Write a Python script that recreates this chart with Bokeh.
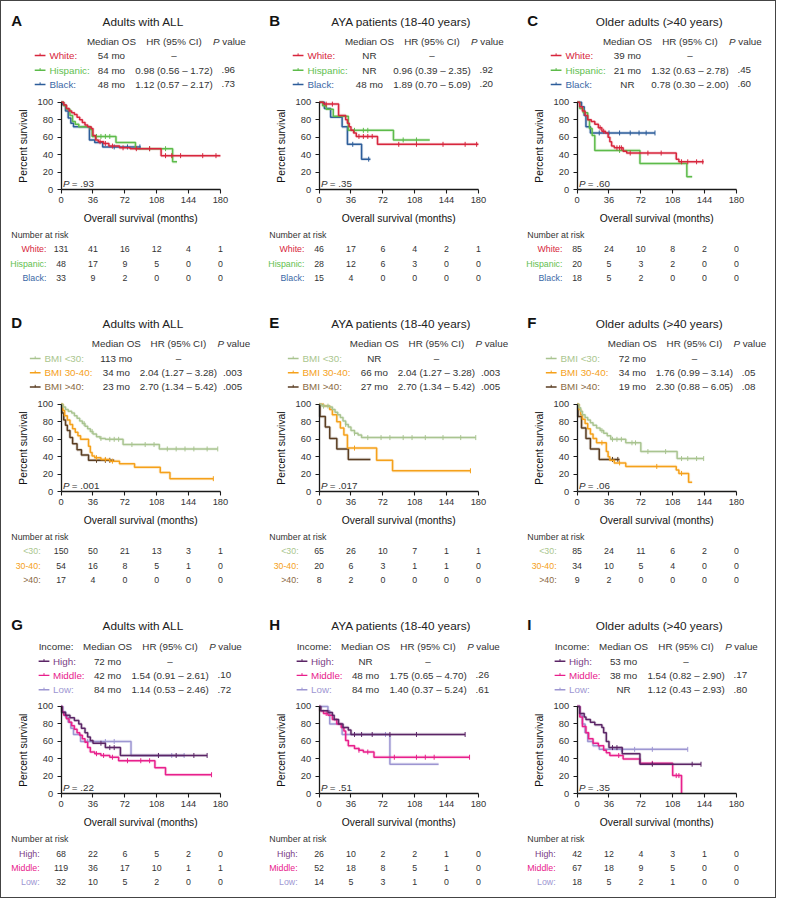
import numpy as np
from bokeh.plotting import figure
from bokeh.layouts import column, row
from bokeh.models import Range1d, FixedTicker, LinearAxis
from bokeh.core.properties import value
from bokeh.embed import file_html
from bokeh.resources import INLINE

# ------------------------------------------------------------------ data
x_ticks = [0, 36, 72, 108, 144, 180]
y_ticks = [0, 20, 40, 60, 80, 100]

titles = ["Adults with ALL", "AYA patients (18-40 years)", "Older adults (>40 years)"]
letters = ["A", "B", "C", "D", "E", "F", "G", "H", "I"]

race_labels = ["White:", "Hispanic:", "Black:"]
race_risk_labels = ["White:", "Hispanic:", "Black:"]
bmi_labels = ["BMI <30:", "BMI 30-40:", "BMI >40:"]
bmi_risk_labels = ["<30:", "30-40:", ">40:"]
inc_labels = ["High:", "Middle:", "Low:"]
inc_risk_labels = ["High:", "Middle:", "Low:"]

race_line_colors = ["#d7263d", "#5dbb4a", "#2d5d9a"]
race_text_colors = ["#d7263d", "#62c04f", "#3a68a6"]
bmi_line_colors = ["#a9c490", "#f5a11b", "#5a3d22"]
bmi_text_colors = ["#aac68e", "#f5a11b", "#8a6a43"]
inc_line_colors = ["#5b2566", "#e8208c", "#9d96d2"]
inc_text_colors = ["#7a3d86", "#e8208c", "#9d96d2"]

# header tables: median OS, HR (95% CI), P value
A_median = ["54 mo", "84 mo", "48 mo"]
A_hr = ["\u2013", "0.98 (0.56 \u2013 1.72)", "1.12 (0.57 \u2013 2.17)"]
A_p = ["", ".96", ".73"]
B_median = ["NR", "NR", "48 mo"]
B_hr = ["\u2013", "0.96 (0.39 \u2013 2.35)", "1.89 (0.70 \u2013 5.09)"]
B_p = ["", ".92", ".20"]
C_median = ["39 mo", "21 mo", "NR"]
C_hr = ["\u2013", "1.32 (0.63 \u2013 2.78)", "0.78 (0.30 \u2013 2.00)"]
C_p = ["", ".45", ".60"]
D_median = ["113 mo", "34 mo", "23 mo"]
D_hr = ["\u2013", "2.04 (1.27 \u2013 3.28)", "2.70 (1.34 \u2013 5.42)"]
D_p = ["", ".003", ".005"]
E_median = ["NR", "66 mo", "27 mo"]
E_hr = ["\u2013", "2.04 (1.27 \u2013 3.28)", "2.70 (1.34 \u2013 5.42)"]
E_p = ["", ".003", ".005"]
F_median = ["72 mo", "34 mo", "19 mo"]
F_hr = ["\u2013", "1.76 (0.99 \u2013 3.14)", "2.30 (0.88 \u2013 6.05)"]
F_p = ["", ".05", ".08"]
G_median = ["72 mo", "42 mo", "84 mo"]
G_hr = ["\u2013", "1.54 (0.91 \u2013 2.61)", "1.14 (0.53 \u2013 2.46)"]
G_p = ["", ".10", ".72"]
H_median = ["NR", "48 mo", "84 mo"]
H_hr = ["\u2013", "1.75 (0.65 \u2013 4.70)", "1.40 (0.37 \u2013 5.24)"]
H_p = ["", ".26", ".61"]
I_median = ["53 mo", "38 mo", "NR"]
I_hr = ["\u2013", "1.54 (0.82 \u2013 2.90)", "1.12 (0.43 \u2013 2.93)"]
I_p = ["", ".17", ".80"]

logrank_p = ["= .93", "= .35", "= .60", "= .001", "= .017", "= .06",
             "= .22", "= .51", "= .35"]

# number at risk (at 0, 36, 72, 108, 144, 180 months)
A_risk = [[131, 41, 16, 12, 4, 1], [48, 17, 9, 5, 0, 0], [33, 9, 2, 0, 0, 0]]
B_risk = [[46, 17, 6, 4, 2, 1], [28, 12, 6, 3, 0, 0], [15, 4, 0, 0, 0, 0]]
C_risk = [[85, 24, 10, 8, 2, 0], [20, 5, 3, 2, 0, 0], [18, 5, 2, 0, 0, 0]]
D_risk = [[150, 50, 21, 13, 3, 1], [54, 16, 8, 5, 1, 0], [17, 4, 0, 0, 0, 0]]
E_risk = [[65, 26, 10, 7, 1, 1], [20, 6, 3, 1, 1, 0], [8, 2, 0, 0, 0, 0]]
F_risk = [[85, 24, 11, 6, 2, 0], [34, 10, 5, 4, 0, 0], [9, 2, 0, 0, 0, 0]]
G_risk = [[68, 22, 6, 5, 2, 0], [119, 36, 17, 10, 1, 1], [32, 10, 5, 2, 0, 0]]
H_risk = [[26, 10, 2, 2, 1, 0], [52, 18, 8, 5, 1, 0], [14, 5, 3, 1, 0, 0]]
I_risk = [[42, 12, 4, 3, 1, 0], [67, 18, 9, 5, 0, 0], [18, 5, 2, 1, 0, 0]]

# Kaplan-Meier step curves (months, percent survival) and censor times
A_white_t = [0, 3, 6, 9, 12, 15, 18, 21, 24, 27, 30, 34, 36, 39, 42, 48, 54, 66, 78, 113, 180]
A_white_s = [100, 97, 93, 90, 88, 86, 83, 80, 77, 74, 72, 70, 62, 57, 55, 53, 50, 48, 47, 39, 39]
A_white_c = [44, 50, 58, 70, 85, 100, 118, 125, 135, 160, 175]
A_hisp_t = [0, 3, 6, 10, 13, 16, 20, 33, 35, 62, 84, 126, 131]
A_hisp_s = [100, 96, 92, 85, 78, 75, 72, 69, 61, 54, 47, 32, 32]
A_hisp_c = [40, 45, 50, 55, 100, 118]
A_black_t = [0, 2, 5, 8, 11, 14, 32, 38, 47, 90]
A_black_s = [100, 97, 90, 82, 76, 72, 57, 54, 49, 49]
A_black_c = [60, 75, 89]

B_white_t = [0, 5, 22, 30, 32, 34, 36, 39, 42, 66, 180]
B_white_s = [100, 98, 85, 80, 76, 72, 68, 65, 61, 52, 52]
B_white_c = [8, 15, 45, 50, 55, 60, 90, 110, 140, 165, 178]
B_hisp_t = [0, 4, 8, 16, 33, 84, 125]
B_hisp_s = [100, 96, 92, 84, 68, 57, 57]
B_hisp_c = [40, 50, 55, 95, 110]
B_black_t = [0, 6, 13, 26, 32, 48, 58]
B_black_s = [100, 93, 83, 72, 52, 35, 35]
B_black_c = [38, 56]

C_white_t = [0, 3, 6, 9, 12, 16, 20, 24, 28, 32, 35, 37, 39, 42, 52, 56, 112, 115, 143]
C_white_s = [100, 95, 90, 85, 80, 78, 75, 71, 67, 65, 60, 55, 50, 48, 44, 42, 35, 32, 32]
C_white_c = [26, 30, 45, 48, 50, 60, 80, 95, 118, 125, 135, 142]
C_hisp_t = [0, 3, 7, 12, 14, 17, 20, 71, 124, 130]
C_hisp_s = [100, 93, 88, 80, 70, 62, 45, 30, 15, 15]
C_hisp_c = [48]
C_black_t = [0, 5, 8, 10, 15, 88]
C_black_s = [100, 95, 85, 72, 65, 65]
C_black_c = [25, 36, 48, 60, 70, 78, 88]

D_lo_t = [0, 2, 5, 8, 12, 15, 18, 21, 24, 27, 30, 33, 36, 40, 44, 50, 70, 111, 177]
D_lo_s = [100, 97, 94, 92, 90, 87, 84, 81, 78, 75, 72, 69, 66, 63, 61, 60, 54, 49, 49]
D_lo_c = [26, 35, 45, 55, 60, 65, 80, 95, 105, 120, 130, 140, 150, 165, 177]
D_mid_t = [0, 2, 4, 7, 10, 13, 16, 19, 22, 31, 33, 35, 38, 45, 55, 66, 83, 112, 123, 172]
D_mid_s = [100, 93, 87, 82, 77, 72, 68, 64, 60, 52, 45, 41, 39, 37, 35, 32, 28, 22, 15, 15]
D_mid_c = [40, 50, 58, 172]
D_hi_t = [0, 1, 3, 5, 7, 10, 13, 18, 23, 31, 60]
D_hi_s = [100, 90, 82, 76, 70, 62, 55, 48, 42, 36, 36]
D_hi_c = [40, 50, 55]

E_lo_t = [0, 3, 12, 15, 18, 21, 24, 27, 30, 33, 36, 40, 44, 48, 177]
E_lo_s = [100, 98, 97, 94, 91, 88, 85, 81, 77, 74, 70, 67, 65, 62, 62]
E_lo_c = [5, 10, 30, 40, 55, 70, 80, 95, 105, 120, 140, 160, 177]
E_mid_t = [0, 5, 12, 15, 20, 24, 28, 32, 65, 83, 171]
E_mid_s = [100, 98, 94, 88, 80, 73, 65, 50, 36, 24, 24]
E_mid_c = [40, 171]
E_hi_t = [0, 1, 7, 12, 20, 33, 58]
E_hi_s = [100, 86, 74, 61, 49, 37, 37]
E_hi_c = []

F_lo_t = [0, 2, 4, 6, 9, 12, 15, 18, 22, 26, 30, 34, 38, 55, 72, 113, 143]
F_lo_s = [100, 96, 92, 88, 85, 82, 79, 76, 73, 70, 67, 64, 60, 56, 46, 38, 38]
F_lo_c = [28, 40, 45, 50, 62, 66, 80, 100, 118, 125, 135, 143]
F_mid_t = [0, 2, 4, 6, 9, 12, 15, 18, 22, 33, 35, 37, 42, 55, 112, 115, 126, 130]
F_mid_s = [100, 94, 88, 83, 78, 72, 66, 61, 56, 46, 40, 36, 33, 29, 25, 21, 11, 11]
F_mid_c = [28, 48, 90, 118]
F_hi_t = [0, 1, 5, 10, 15, 25, 48]
F_hi_s = [100, 86, 73, 61, 49, 37, 37]
F_hi_c = [40, 46]

G_hi_t = [0, 1, 5, 10, 15, 20, 23, 27, 30, 33, 36, 50, 67, 165]
G_hi_s = [100, 93, 90, 87, 84, 80, 75, 70, 65, 61, 58, 53, 44, 44]
G_hi_c = [45, 55, 60, 110, 130, 150, 165]
G_mid_t = [0, 1, 3, 6, 9, 12, 15, 18, 21, 24, 27, 30, 33, 38, 45, 55, 65, 106, 118, 170]
G_mid_s = [100, 94, 90, 86, 82, 78, 74, 70, 67, 63, 59, 53, 48, 46, 44, 42, 38, 30, 22, 22]
G_mid_c = [40, 48, 58, 75, 90, 100, 170]
G_lo_t = [0, 2, 5, 8, 11, 14, 22, 79, 139]
G_lo_s = [100, 94, 88, 82, 75, 68, 60, 44, 44]
G_lo_c = [30, 50, 60, 110, 125, 139]

H_hi_t = [0, 2, 10, 15, 17, 22, 27, 33, 36, 165]
H_hi_s = [100, 95, 93, 90, 85, 80, 76, 73, 68, 68]
H_hi_c = [40, 48, 60, 80, 110, 165]
H_mid_t = [0, 1, 5, 10, 15, 20, 25, 28, 30, 33, 40, 45, 50, 62, 170]
H_mid_s = [100, 95, 92, 90, 85, 80, 76, 72, 61, 55, 52, 50, 48, 42, 42]
H_mid_c = [8, 45, 55, 85, 110, 120, 130, 170]
H_lo_t = [0, 10, 12, 26, 80, 135]
H_lo_s = [100, 95, 80, 68, 34, 34]
H_lo_c = [75]

I_hi_t = [0, 3, 8, 10, 15, 20, 28, 30, 33, 36, 51, 71, 140]
I_hi_s = [100, 92, 88, 85, 82, 79, 76, 70, 60, 53, 46, 34, 34]
I_hi_c = [40, 45, 85, 130, 140]
I_mid_t = [0, 3, 6, 10, 13, 18, 24, 30, 33, 37, 52, 71, 108, 118]
I_mid_s = [100, 88, 77, 70, 63, 58, 55, 50, 47, 44, 40, 35, 21, 0]
I_mid_c = [47, 85, 112, 115]
I_lo_t = [0, 3, 6, 9, 12, 18, 25, 125]
I_lo_s = [100, 90, 80, 70, 60, 55, 51, 51]
I_lo_c = [50, 65, 85, 125]

# ------------------------------------------------------------------ layout
SANS = "Liberation Sans"
TXT = "#333333"

PW = 258                      # panel width in px
PH = [302, 302, 292]          # panel heights in px
REF_W = 264.0                 # reference panel width
REF_H = [307.5, 307.5, 297.0] # reference panel heights
X0_REF, X180_REF = 61.0, 224.0
Y100_REF, Y0_REF = 102.7, 191.7
MX = 180.0 / (X180_REF - X0_REF)
MY = 100.0 / (Y0_REF - Y100_REF)


def fx(xr):
    return (xr - X0_REF) * MX


def fy(yr):
    return 100.0 - (yr - Y100_REF) * MY


def txt(p, x, y, s, size="9.8px", color=TXT, align="left", style="normal",
        font=SANS, x_offset=0, angle=0.0):
    p.text(x=x, y=y, text=s, text_font=value(font), text_font_size=value(size),
           text_color=color, text_align=align, text_baseline="middle",
           text_font_style=style, x_offset=x_offset, angle=angle)


def style_axis(ax):
    ax.axis_line_color = "#1a1a1a"
    ax.axis_line_width = 1.3
    ax.major_tick_line_color = "#1a1a1a"
    ax.major_tick_line_width = 1.1
    ax.major_tick_in = 0
    ax.major_tick_out = 4
    ax.minor_tick_line_color = None
    ax.major_label_text_font = SANS
    ax.major_label_text_font_size = "9.3px"
    ax.major_label_text_color = "#333333"


def panel(k, r, c, g, labels, rlabels, tcolors, lcolors, med, hr, pv, risk, curves):
    p = figure(width=PW, height=PH[r], x_range=Range1d(fx(0), fx(REF_W)),
               y_range=Range1d(fy(REF_H[r]), fy(0)), toolbar_location=None,
               output_backend="svg", x_axis_type=None, y_axis_type=None,
               min_border=0)
    p.outline_line_color = None
    p.grid.visible = False
    p.background_fill_color = "white"
    p.border_fill_color = "white"

    # ---- header
    cm, ch, cp = g["cols"]
    hy = fy(g["hdr_y"])
    txt(p, [fx(10)], [fy(19)], [letters[k]], size="15px", style="bold", color="#111111")
    txt(p, [fx(145)], [fy(20.5)], [titles[c]], size="11.8px", align="center", color="#222222")
    if g["income"]:
        txt(p, [fx(g["line_x"])], [hy], ["Income:"])
    txt(p, [fx(cm)], [hy], ["Median OS"], align="center")
    txt(p, [fx(ch)], [hy], ["HR (95% CI)"], align="center")
    txt(p, [fx(cp - 15.5)], [hy], ["P"], style="italic")
    txt(p, [fx(cp - 15.5)], [hy], ["value"], x_offset=9.2)
    lx = g["line_x"]
    for i, yr in enumerate(g["rows_y"]):
        y = fy(yr)
        p.segment(x0=[fx(lx)], y0=[y], x1=[fx(lx + 11)], y1=[y], line_color=lcolors[i],
                  line_width=1.3)
        p.segment(x0=[fx(lx + 5.5)], y0=[fy(yr - 2.2)], x1=[fx(lx + 5.5)], y1=[fy(yr + 0.3)],
                  line_color=lcolors[i], line_width=1)
        txt(p, [fx(g["label_x"])], [y], [labels[i]], color=tcolors[i])
        txt(p, [fx(cm)], [y], [med[i]], align="center")
        txt(p, [fx(ch)], [y], [hr[i]], align="center")
        if pv[i]:
            txt(p, [fx(cp)], [y], [pv[i]], align="center")

    # ---- survival curves
    for i in reversed(range(len(curves))):
        t, s, cens = curves[i]
        col = lcolors[i]
        t = np.asarray(t, float)
        s = np.asarray(s, float)
        p.step(t, s, mode="after", line_color=col, line_width=3.2, line_alpha=0.18)
        p.step(t, s, mode="after", line_color=col, line_width=1.5)
        if len(cens):
            cc = np.asarray(cens, float)
            idx = np.clip(np.searchsorted(t, cc, side="right") - 1, 0, len(s) - 1)
            p.scatter(cc, s[idx], marker="dash", angle=np.pi / 2, size=5,
                      line_color=col, line_width=1)

    # ---- axes at the plot origin
    xax = LinearAxis(fixed_location=0, bounds=(0, 180), ticker=FixedTicker(ticks=x_ticks))
    yax = LinearAxis(fixed_location=0, bounds=(0, 100), ticker=FixedTicker(ticks=y_ticks))
    style_axis(xax)
    style_axis(yax)
    xax.major_label_standoff = 3
    yax.major_label_standoff = 4
    p.add_layout(xax, "below")
    p.add_layout(yax, "left")
    txt(p, [90], [fy(220.5)], ["Overall survival (months)"], size="10.3px",
        align="center", color="#111111")
    txt(p, [fx(23)], [50], ["Percent survival"], size="10.3px", align="center",
        color="#111111", angle=np.pi / 2)
    txt(p, [2.2], [7.5], ["P"], style="italic")
    txt(p, [2.2], [7.5], [logrank_p[k]], x_offset=8.8)

    # ---- number at risk
    txt(p, [fx(10)], [fy(237.5)], ["Number at risk"], size="8.8px")
    for i, yr in enumerate([252.5, 266.8, 281.5]):
        y = fy(yr)
        txt(p, [fx(g["risk_label_x"])], [y], [rlabels[i]], size="8.8px",
            color=tcolors[i], align="right")
        txt(p, x_ticks, [y] * len(x_ticks), [str(v) for v in risk[i]], size="8.8px",
            align="center")
    return p


G_ABC = dict(cols=(112.5, 176.5, 232), hdr_y=41, rows_y=(55, 70, 84.5), line_x=34,
             label_x=49, risk_label_x=46, income=False)
G_DEF = dict(cols=(117.5, 181, 236.5), hdr_y=41, rows_y=(56, 70.5, 85), line_x=29,
             label_x=44, risk_label_x=40, income=False)
G_GHI = dict(cols=(108.5, 172.5, 228), hdr_y=41.7, rows_y=(56.7, 71, 85.7), line_x=38,
             label_x=52.7, risk_label_x=39, income=True)

specs = [
    (G_ABC, race_labels, race_risk_labels, race_text_colors, race_line_colors,
     A_median, A_hr, A_p, A_risk,
     [(A_white_t, A_white_s, A_white_c), (A_hisp_t, A_hisp_s, A_hisp_c), (A_black_t, A_black_s, A_black_c)]),
    (G_ABC, race_labels, race_risk_labels, race_text_colors, race_line_colors,
     B_median, B_hr, B_p, B_risk,
     [(B_white_t, B_white_s, B_white_c), (B_hisp_t, B_hisp_s, B_hisp_c), (B_black_t, B_black_s, B_black_c)]),
    (G_ABC, race_labels, race_risk_labels, race_text_colors, race_line_colors,
     C_median, C_hr, C_p, C_risk,
     [(C_white_t, C_white_s, C_white_c), (C_hisp_t, C_hisp_s, C_hisp_c), (C_black_t, C_black_s, C_black_c)]),
    (G_DEF, bmi_labels, bmi_risk_labels, bmi_text_colors, bmi_line_colors,
     D_median, D_hr, D_p, D_risk,
     [(D_lo_t, D_lo_s, D_lo_c), (D_mid_t, D_mid_s, D_mid_c), (D_hi_t, D_hi_s, D_hi_c)]),
    (G_DEF, bmi_labels, bmi_risk_labels, bmi_text_colors, bmi_line_colors,
     E_median, E_hr, E_p, E_risk,
     [(E_lo_t, E_lo_s, E_lo_c), (E_mid_t, E_mid_s, E_mid_c), (E_hi_t, E_hi_s, E_hi_c)]),
    (G_DEF, bmi_labels, bmi_risk_labels, bmi_text_colors, bmi_line_colors,
     F_median, F_hr, F_p, F_risk,
     [(F_lo_t, F_lo_s, F_lo_c), (F_mid_t, F_mid_s, F_mid_c), (F_hi_t, F_hi_s, F_hi_c)]),
    (G_GHI, inc_labels, inc_risk_labels, inc_text_colors, inc_line_colors,
     G_median, G_hr, G_p, G_risk,
     [(G_hi_t, G_hi_s, G_hi_c), (G_mid_t, G_mid_s, G_mid_c), (G_lo_t, G_lo_s, G_lo_c)]),
    (G_GHI, inc_labels, inc_risk_labels, inc_text_colors, inc_line_colors,
     H_median, H_hr, H_p, H_risk,
     [(H_hi_t, H_hi_s, H_hi_c), (H_mid_t, H_mid_s, H_mid_c), (H_lo_t, H_lo_s, H_lo_c)]),
    (G_GHI, inc_labels, inc_risk_labels, inc_text_colors, inc_line_colors,
     I_median, I_hr, I_p, I_risk,
     [(I_hi_t, I_hi_s, I_hi_c), (I_mid_t, I_mid_s, I_mid_c), (I_lo_t, I_lo_s, I_lo_c)]),
]

rows = []
for r in range(3):
    figs = []
    for c in range(3):
        k = r * 3 + c
        figs.append(panel(k, r, c, *specs[k]))
    rows.append(row(*figs, spacing=0))

layout = column(*rows, spacing=0, styles={"border": "1px solid #444444"})

open("out.html", "w").write(file_html(layout, INLINE, title="KM curves"))
